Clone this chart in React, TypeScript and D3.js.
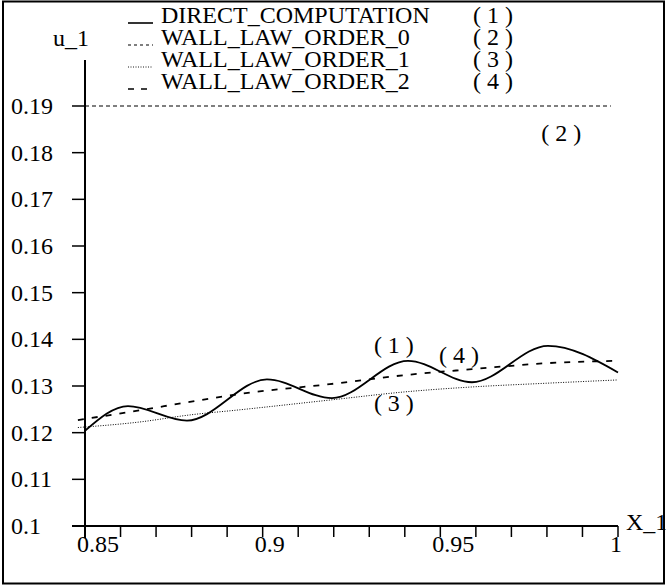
import React from "react";
import * as d3 from "d3";

const seriesNames = ["DIRECT_COMPUTATION", "WALL_LAW_ORDER_0", "WALL_LAW_ORDER_1", "WALL_LAW_ORDER_2"];
const seriesTags = ["( 1 )", "( 2 )", "( 3 )", "( 4 )"];

const directX = [0.85, 0.8621, 0.8787, 0.9012, 0.9195, 0.9409, 0.9589, 0.9803, 1.0];
const directY = [0.1204, 0.1257, 0.1226, 0.1314, 0.1274, 0.1354, 0.1308, 0.1386, 0.1329];

const order0X = [0.85, 0.998];
const order0Y = [0.19, 0.19];

const order1X = [0.848, 0.8655, 0.8795, 0.8936, 0.919, 0.9409, 0.959, 0.98, 1.0];
const order1Y = [0.1211, 0.1223, 0.1238, 0.1249, 0.127, 0.1288, 0.1298, 0.1306, 0.1313];

const order2X = [0.848, 0.8655, 0.8795, 0.8936, 0.9189, 0.9409, 0.9589, 0.9803, 1.0];
const order2Y = [0.1227, 0.1248, 0.1266, 0.1283, 0.1304, 0.1324, 0.1336, 0.1349, 0.1354];

const xTickValues = [0.85, 0.9, 0.95, 1.0];
const xTickLabels = ["0.85", "0.9", "0.95", "1"];
const yTickValues = [0.1, 0.11, 0.12, 0.13, 0.14, 0.15, 0.16, 0.17, 0.18, 0.19];
const yTickLabels = ["0.1", "0.11", "0.12", "0.13", "0.14", "0.15", "0.16", "0.17", "0.18", "0.19"];

// in-plot tags: data anchors for tags (1),(2),(3),(4)
const tagX = [0.9313, 0.9784, 0.9313, 0.9496];
const tagY = [0.1371, 0.1824, 0.1247, 0.1349];

const FONT = '"Liberation Serif", "Times New Roman", Times, "DejaVu Serif", serif';

export default function App() {
  const x = d3.scaleLinear().domain([0.85, 1.0]).range([85, 618]);
  const y = d3.scaleLinear().domain([0.1, 0.19]).range([526, 106]);

  const minorX = d3.range(0, 16).map((i) => 0.85 + i * 0.01);

  const mk = (xs: number[], ys: number[], curve: any) =>
    d3
      .line<number>()
      .x((_, i) => x(xs[i]))
      .y((d) => y(d))
      .curve(curve)(ys) || "";

  const pDirect = mk(directX, directY, d3.curveMonotoneX);
  const p0 = mk(order0X, order0Y, d3.curveLinear);
  const p1 = mk(order1X, order1Y, d3.curveMonotoneX);
  const p2 = mk(order2X, order2Y, d3.curveMonotoneX);

  const legendStyles = [
    { dash: "none", w: 1.6 },
    { dash: "3,3", w: 1.2 },
    { dash: "1,1.5", w: 0.9 },
    { dash: "6,7", w: 1.6 },
  ];
  const legendBase = [23, 45, 67, 89];
  const ts: React.CSSProperties = { fontFamily: FONT, whiteSpace: "pre" };

  return (
    <svg
      width={666}
      height={587}
      style={{ position: "absolute", left: 0, top: 0, background: "#fff", fontFamily: FONT }}
    >
      <rect x={3} y={1.5} width={661} height={582} fill="#fff" stroke="#000" strokeWidth={2} />

      {/* legend */}
      {seriesNames.map((n, i) => (
        <g key={n}>
          <line
            x1={128}
            x2={153}
            y1={legendBase[i]}
            y2={legendBase[i]}
            stroke="#000"
            strokeWidth={legendStyles[i].w}
            strokeDasharray={legendStyles[i].dash}
          />
          <text x={161} y={legendBase[i]} fontSize={24} fill="#000" style={ts}>
            {n}
          </text>
          <text x={473} y={legendBase[i]} fontSize={24} fill="#000" style={ts}>
            {seriesTags[i]}
          </text>
        </g>
      ))}

      {/* axes */}
      <line x1={72} x2={618} y1={526} y2={526} stroke="#000" strokeWidth={2} />
      <line x1={85} x2={85} y1={60} y2={538} stroke="#000" strokeWidth={2} />
      {minorX.map((v, i) => (
        <line key={i} x1={x(v)} x2={x(v)} y1={526} y2={537} stroke="#000" strokeWidth={1.5} />
      ))}
      {yTickValues.map((v, i) => (
        <line key={i} x1={72} x2={85} y1={y(v)} y2={y(v)} stroke="#000" strokeWidth={1.5} />
      ))}
      {xTickValues.map((v, i) => (
        <text key={i} x={x(v) - 8} y={552} fontSize={24} fill="#000" style={ts}>
          {xTickLabels[i]}
        </text>
      ))}
      {yTickValues.map((v, i) => (
        <text key={i} x={11} y={y(v) + 8} fontSize={24} fill="#000" style={ts}>
          {yTickLabels[i]}
        </text>
      ))}
      <text x={53} y={46} fontSize={24} fill="#000" style={ts}>u_1</text>
      <text x={626} y={530} fontSize={24} fill="#000" style={ts}>X_1</text>

      {/* curves */}
      <path d={p0} fill="none" stroke="#000" strokeWidth={1.2} strokeDasharray="4,3" />
      <path d={p1} fill="none" stroke="#000" strokeWidth={1} strokeDasharray="1,1.5" />
      <path d={p2} fill="none" stroke="#000" strokeWidth={1.8} strokeDasharray="6,8" />
      <path d={pDirect} fill="none" stroke="#000" strokeWidth={1.8} />

      {/* in-plot tags */}
      {seriesTags.map((t, i) => (
        <text key={t} x={x(tagX[i])} y={y(tagY[i])} fontSize={24} fill="#000" style={ts}>
          {t}
        </text>
      ))}
    </svg>
  );
}
